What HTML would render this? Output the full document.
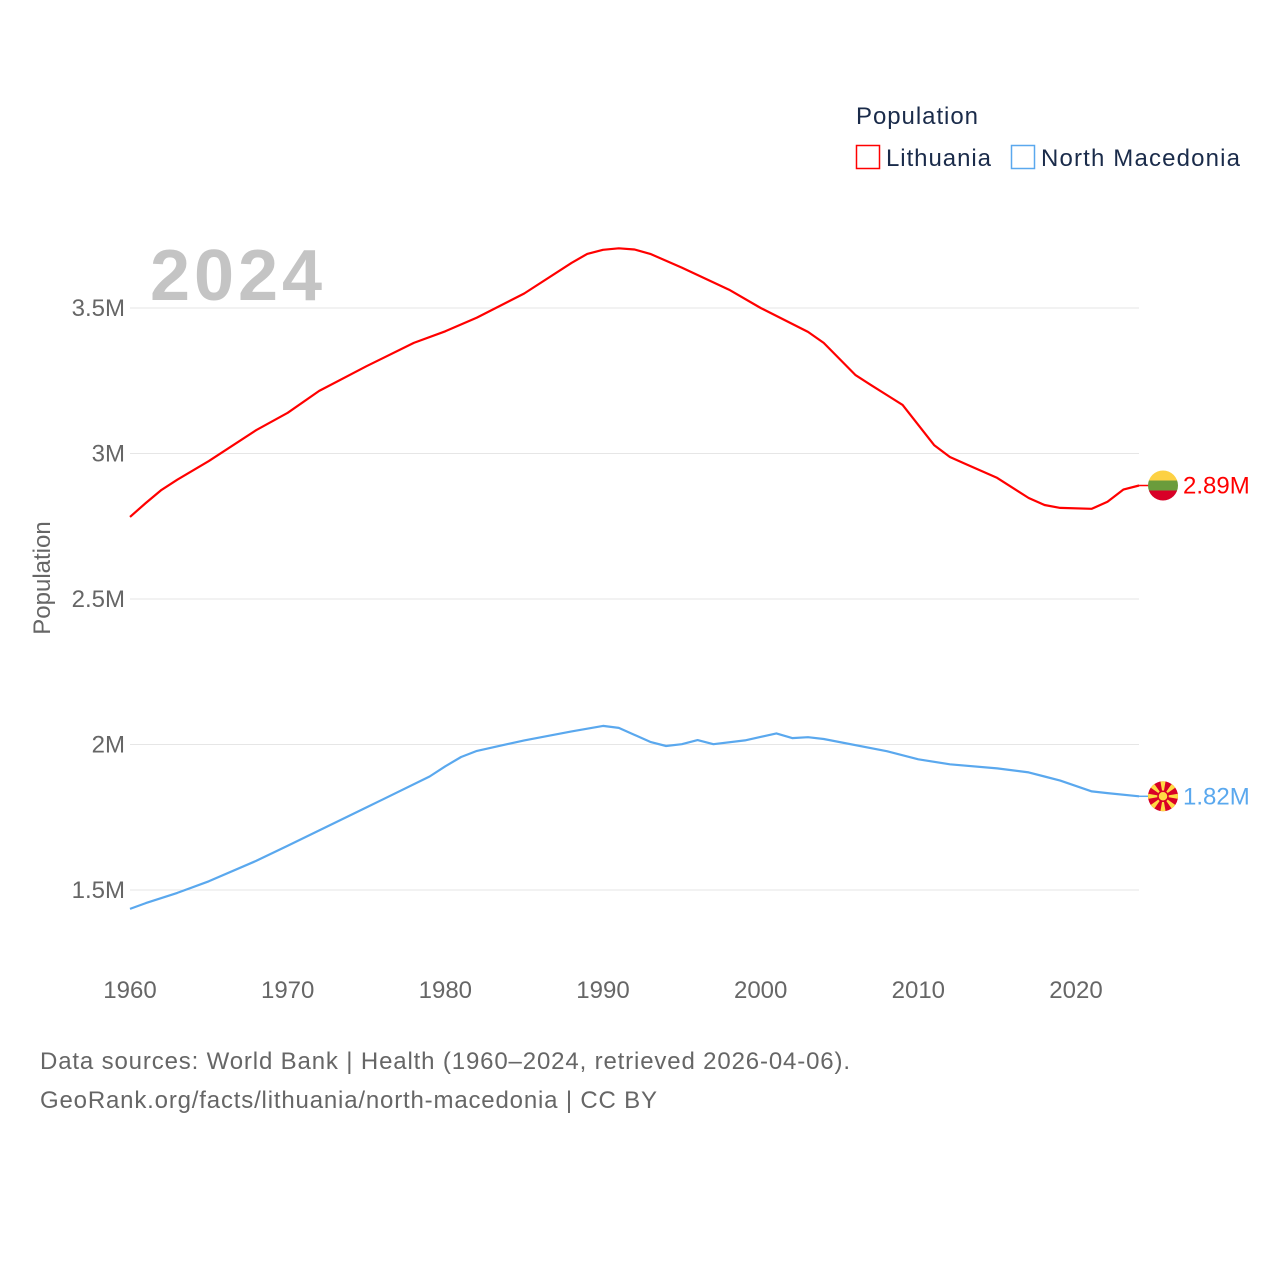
<!DOCTYPE html>
<html><head><meta charset="utf-8"><style>
body{margin:0;background:#fff;font-family:"Liberation Sans",sans-serif;}
svg{display:block}
</style></head><body>
<svg id="chart" width="1280" height="1280">
<text x="856" y="124" font-size="24" fill="#1a2b4a" textLength="122">Population</text>
<g>
<rect x="856.5" y="145.5" width="23" height="23" fill="none" stroke="#ff0000" stroke-width="1.5"/>
<text x="886" y="166" font-size="24" fill="#1a2b4a" textLength="105">Lithuania</text></g>
<g>
<rect x="1011.5" y="145.5" width="23" height="23" fill="none" stroke="#5aa8ee" stroke-width="1.5"/>
<text x="1041" y="166" font-size="24" fill="#1a2b4a" textLength="199">North Macedonia</text></g>
<text x="150" y="300" font-size="72" font-weight="bold" fill="#c4c4c4" textLength="172">2024</text>
<text transform="translate(50,578) rotate(-90)" text-anchor="middle" font-size="24" fill="#666">Population</text>
<g id="grid"></g><g id="series"></g>
<text x="40" y="1069" font-size="24" fill="#666" textLength="810">Data sources: World Bank | Health (1960–2024, retrieved 2026-04-06).</text>
<text x="40" y="1108" font-size="24" fill="#666" textLength="617">GeoRank.org/facts/lithuania/north-macedonia | CC BY</text>
</svg>
<script>
const yTicks=[1.5,2,2.5,3,3.5];
const yTickLabels=["1.5M","2M","2.5M","3M","3.5M"];
const xTicks=[1960,1970,1980,1990,2000,2010,2020];
const ltYears=[1960,1961,1962,1963,1965,1968,1970,1972,1975,1978,1980,1982,1985,1988,1989,1990,1991,1992,1993,1995,1998,2000,2003,2004,2006,2007,2009,2011,2012,2013,2015,2017,2018,2019,2021,2022,2023,2024];
const ltValues=[2.782,2.83,2.875,2.91,2.974,3.08,3.14,3.215,3.30,3.38,3.42,3.467,3.55,3.655,3.686,3.70,3.705,3.701,3.686,3.639,3.563,3.50,3.418,3.38,3.27,3.235,3.167,3.029,2.988,2.964,2.916,2.847,2.823,2.813,2.810,2.834,2.876,2.89];
const mkYears=[1960,1961,1963,1965,1968,1970,1975,1979,1980,1981,1982,1985,1988,1990,1991,1993,1994,1995,1996,1997,1999,2001,2002,2003,2004,2008,2010,2012,2015,2017,2018,2019,2021,2022,2024];
const mkValues=[1.435,1.455,1.49,1.53,1.60,1.652,1.784,1.89,1.925,1.957,1.978,2.014,2.045,2.064,2.057,2.009,1.995,2.001,2.015,2.001,2.014,2.038,2.022,2.025,2.019,1.977,1.949,1.932,1.918,1.904,1.89,1.876,1.839,1.833,1.822];
const NS="http://www.w3.org/2000/svg";
const X=y=>130+(y-1960)*(946/60);
const Y=v=>308+(3.5-v)*291;
const grid=document.getElementById('grid'),ser=document.getElementById('series');
function el(t,a,p){const e=document.createElementNS(NS,t);for(const k in a)e.setAttribute(k,a[k]);p.appendChild(e);return e;}
yTicks.forEach((v,i)=>{
 const l=el('line',{x1:130,x2:1139,y1:Y(v),y2:Y(v),stroke:'#e6e6e6','stroke-width':1},grid);
 
 
 const t=el('text',{x:125,y:Y(v)+8,'text-anchor':'end','font-size':24,fill:'#666'},grid);
 t.textContent=yTickLabels[i];
 
 
});
xTicks.forEach(y=>{
 const t=el('text',{x:X(y),y:998,'text-anchor':'middle','font-size':24,fill:'#666'},grid);
 t.textContent=y;
 
 
});
function line(ys,vs,c,name){
 const d=ys.map((y,i)=>(i?'L':'M')+X(y).toFixed(1)+','+Y(vs[i]).toFixed(1)).join('');
 const p=el('path',{d:d,fill:'none',stroke:c,'stroke-width':2.2,'stroke-linejoin':'round'},ser);
 
 
 const n=ys.length-1,yy=Y(vs[n]);
 el('line',{x1:X(ys[n]),x2:1150,y1:yy,y2:yy,stroke:c,'stroke-width':1.5},ser);
 const t=el('text',{x:1183,y:yy+8,'font-size':24,fill:c},ser);
 t.textContent=vs[n].toFixed(2)+'M';
 
 
 return yy;
}
const ly=line(ltYears,ltValues,'#ff0000','lithuania-line');
const my=line(mkYears,mkValues,'#5aa8ee','north-macedonia-line');
const defs=el('defs',{},ser);
const cp=el('clipPath',{id:'lc'},defs);el('circle',{cx:1163,cy:ly,r:15},cp);
const lf=el('g',{'clip-path':'url(#lc)'},ser);


el('rect',{x:1148,y:ly-15,width:30,height:10,fill:'#fdd143'},lf);
el('rect',{x:1148,y:ly-5,width:30,height:10,fill:'#6a9c3c'},lf);
el('rect',{x:1148,y:ly+5,width:30,height:10,fill:'#d80027'},lf);
const cp2=el('clipPath',{id:'mc'},defs);el('circle',{cx:1163,cy:my,r:15},cp2);
const mf=el('g',{'clip-path':'url(#mc)'},ser);


el('rect',{x:1148,y:my-15,width:30,height:30,fill:'#d80027'},mf);
for(let k=0;k<8;k++){const a=k*Math.PI/4,b=0.17;
 el('polygon',{points:`1163,${my} ${1163+20*Math.cos(a-b)},${my+20*Math.sin(a-b)} ${1163+20*Math.cos(a+b)},${my+20*Math.sin(a+b)}`,fill:'#ffda44'},mf);}
el('circle',{cx:1163,cy:my,r:5,fill:'#ffda44',stroke:'#d80027','stroke-width':1.5},mf);
</script>
</body></html>
